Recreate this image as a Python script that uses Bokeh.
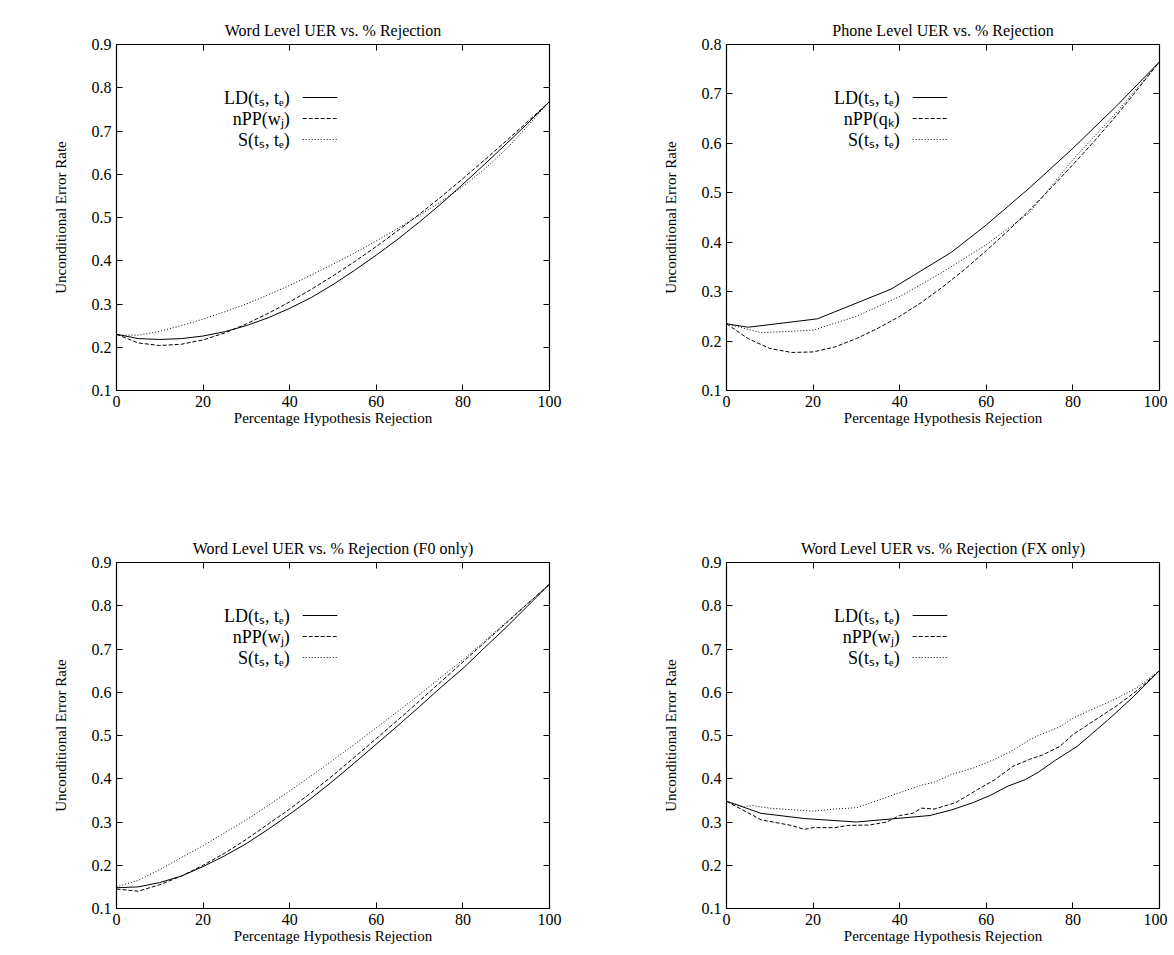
from bokeh.models import LinearAxis, Range1d, FixedTicker
from bokeh.plotting import figure
from bokeh.layouts import gridplot
from bokeh.core.properties import value
from bokeh.embed import file_html
from bokeh.resources import INLINE

FONT = "Liberation Serif"

# top-left: word level
wl_x = [0, 5, 10, 15, 20, 25, 30, 35, 40, 45, 50, 55, 60, 65, 70, 75, 80, 85, 90, 95, 100]
wl_ld = [0.23, 0.22, 0.218, 0.22, 0.226, 0.236, 0.25, 0.268, 0.29, 0.315, 0.345, 0.378, 0.413,
         0.45, 0.49, 0.532, 0.577, 0.623, 0.67, 0.718, 0.768]
wl_npp = [0.23, 0.21, 0.204, 0.207, 0.217, 0.233, 0.254, 0.278, 0.305, 0.334, 0.365, 0.398,
          0.433, 0.47, 0.508, 0.548, 0.59, 0.633, 0.677, 0.722, 0.768]
wl_s = [0.228, 0.228, 0.237, 0.25, 0.265, 0.282, 0.3, 0.321, 0.343, 0.367, 0.392, 0.418, 0.446,
        0.475, 0.505, 0.537, 0.572, 0.612, 0.658, 0.712, 0.768]

# top-right: phone level
ph_ld_x = [0, 5, 21, 38, 52, 60, 70, 80, 90, 100]
ph_ld = [0.235, 0.228, 0.245, 0.305, 0.38, 0.435, 0.51, 0.59, 0.675, 0.765]
ph_npp_x = [0, 5, 10, 15, 20, 25, 30, 35, 40, 45, 50, 55, 60, 65, 70, 75, 80, 85, 90, 95, 100]
ph_npp = [0.235, 0.205, 0.185, 0.177, 0.178, 0.188, 0.205, 0.226, 0.25, 0.278, 0.31, 0.345,
          0.383, 0.423, 0.465, 0.51, 0.557, 0.605, 0.656, 0.71, 0.765]
ph_s_x = [0, 8, 20, 30, 40, 50, 60, 70, 80, 90, 100]
ph_s = [0.235, 0.217, 0.222, 0.25, 0.29, 0.34, 0.395, 0.46, 0.567, 0.662, 0.765]

# bottom-left: F0 only
f0_x = [0, 5, 10, 15, 20, 25, 30, 35, 40, 45, 50, 55, 60, 65, 70, 75, 80, 85, 90, 95, 100]
f0_ld = [0.148, 0.15, 0.16, 0.175, 0.197, 0.222, 0.25, 0.283, 0.318, 0.355, 0.395, 0.437,
         0.48, 0.523, 0.567, 0.612, 0.655, 0.703, 0.75, 0.8, 0.85]
f0_npp = [0.145, 0.14, 0.155, 0.175, 0.2, 0.228, 0.26, 0.295, 0.33, 0.368, 0.408, 0.45, 0.493,
          0.536, 0.58, 0.625, 0.67, 0.715, 0.76, 0.805, 0.85]
f0_s = [0.15, 0.165, 0.19, 0.218, 0.245, 0.275, 0.305, 0.338, 0.372, 0.407, 0.443, 0.48, 0.518,
        0.556, 0.595, 0.635, 0.675, 0.718, 0.762, 0.806, 0.85]

# bottom-right: FX only
fx_ld_x = [0, 8, 18, 30, 38, 47, 52, 57, 61, 65, 69, 72, 76, 81, 88, 94, 100]
fx_ld = [0.348, 0.32, 0.308, 0.3, 0.307, 0.315, 0.328, 0.345, 0.362, 0.383, 0.398, 0.415,
         0.443, 0.475, 0.535, 0.59, 0.65]
fx_npp_x = [0, 8, 15, 18, 20, 25, 28, 33, 37, 40, 43, 45, 48, 53, 58, 62, 66, 70, 73, 77, 80,
            85, 90, 95, 100]
fx_npp = [0.348, 0.305, 0.292, 0.283, 0.287, 0.287, 0.292, 0.293, 0.3, 0.315, 0.32, 0.332,
          0.33, 0.345, 0.375, 0.398, 0.428, 0.445, 0.455, 0.475, 0.502, 0.535, 0.568, 0.605, 0.65]
fx_s_x = [0, 4, 6, 10, 17, 20, 25, 30, 35, 40, 45, 48, 52, 57, 62, 66, 70, 72, 77, 80, 85, 90,
          95, 100]
fx_s = [0.348, 0.335, 0.338, 0.332, 0.327, 0.325, 0.33, 0.333, 0.35, 0.368, 0.385, 0.392, 0.41,
        0.425, 0.445, 0.465, 0.49, 0.5, 0.52, 0.54, 0.563, 0.585, 0.612, 0.65]

X_TICKS = [0, 20, 40, 60, 80, 100]


def panel(title, ymax, series, labels, border_left, border_top, border_right, border_bottom):
    p = figure(frame_width=433, frame_height=346, x_range=Range1d(0, 100),
               y_range=Range1d(0.1, ymax), output_backend="svg", toolbar_location=None,
               min_border_left=border_left, min_border_top=border_top,
               min_border_right=border_right, min_border_bottom=border_bottom)
    p.title.text = title
    p.title.align = "center"
    p.title.text_font = FONT
    p.title.text_font_size = "16px"
    p.title.text_font_style = "normal"
    p.title.text_color = "black"
    p.title.offset = 0
    p.title.standoff = 12
    p.grid.visible = False
    p.outline_line_color = "black"
    p.outline_line_width = 1.2
    y_ticks = [round(0.1 * i, 1) for i in range(1, int(round(ymax * 10)) + 1)]
    p.add_layout(LinearAxis(), "right")
    p.add_layout(LinearAxis(), "above")
    for ax in p.xaxis:
        ax.ticker = FixedTicker(ticks=X_TICKS)
    for ax in p.yaxis:
        ax.ticker = FixedTicker(ticks=y_ticks)
    for ax in p.axis:
        ax.major_tick_in = 6
        ax.major_tick_out = 0
        ax.minor_tick_in = 0
        ax.minor_tick_out = 0
        ax.axis_line_color = None
        ax.major_tick_line_color = "black"
        ax.major_label_text_font = FONT
        ax.major_label_text_font_size = "16px"
        ax.major_label_text_color = "black"
        ax.major_label_standoff = 5
    p.right[0].major_label_text_font_size = "0px"
    p.above[0].major_label_text_font_size = "0px"
    bx, ly = p.below[0], p.left[0]
    bx.axis_label = "Percentage Hypothesis Rejection"
    ly.axis_label = "Unconditional Error Rate"
    for ax in (bx, ly):
        ax.axis_label_text_font = FONT
        ax.axis_label_text_font_size = "15px"
        ax.axis_label_text_font_style = "normal"
        ax.axis_label_text_color = "black"
    bx.axis_label_standoff = 0
    ly.axis_label_standoff = 20

    dashes = ["solid", "4 2", "1 2"]
    step = (ymax - 0.1) / 346 * 21
    top = ymax - (ymax - 0.1) / 346 * 53
    for k, ((xs, ys), lab) in enumerate(zip(series, labels)):
        p.line(xs, ys, line_color="black", line_width=1, line_dash=dashes[k])
        yy = top - k * step
        p.line([43, 51], [yy, yy], line_color="black", line_width=1, line_dash=dashes[k])
        p.text([40], [yy], text=[lab], text_align="right", text_baseline="middle",
               text_font=value(FONT), text_font_size="18px", text_color="black")
    return p


lab_w = ["LD(tₛ, tₑ)", "nPP(wⱼ)", "S(tₛ, tₑ)"]
lab_q = ["LD(tₛ, tₑ)", "nPP(qₖ)", "S(tₛ, tₑ)"]

p1 = panel("Word Level UER vs. % Rejection", 0.9,
           [(wl_x, wl_ld), (wl_x, wl_npp), (wl_x, wl_s)], lab_w, 116, 44, 22, 82)
p2 = panel("Phone Level UER vs. % Rejection", 0.8,
           [(ph_ld_x, ph_ld), (ph_npp_x, ph_npp), (ph_s_x, ph_s)], lab_q, 155, 44, 8, 82)
p3 = panel("Word Level UER vs. % Rejection (F0 only)", 0.9,
           [(f0_x, f0_ld), (f0_x, f0_npp), (f0_x, f0_s)], lab_w, 116, 90, 22, 40)
p4 = panel("Word Level UER vs. % Rejection (FX only)", 0.9,
           [(fx_ld_x, fx_ld), (fx_npp_x, fx_npp), (fx_s_x, fx_s)], lab_w, 155, 90, 8, 40)

grid = gridplot([[p1, p2], [p3, p4]], toolbar_location=None)
open("out.html", "w").write(file_html(grid, INLINE))
